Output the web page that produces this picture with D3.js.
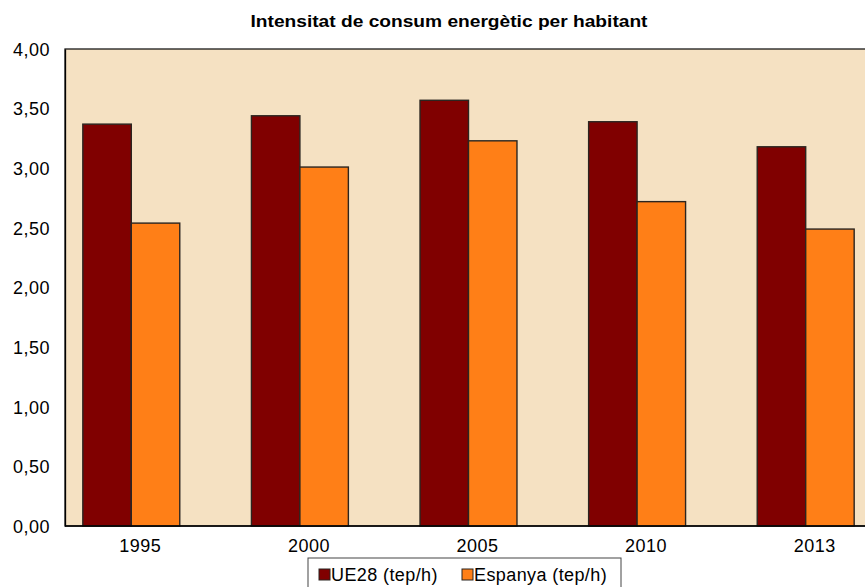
<!DOCTYPE html>
<html>
<head>
<meta charset="utf-8">
<script src="https://cdn.jsdelivr.net/npm/d3@7"></script>
<style>
  body { margin: 0; background: #fff; }
  text { font-family: "Liberation Sans", Arial, sans-serif; fill: #000; }
</style>
</head>
<body>
<svg id="chart" width="865" height="587"></svg>
<script>
// data
var years = ['1995', '2000', '2005', '2010', '2013'];
var ue28 = [3.37, 3.44, 3.57, 3.39, 3.18];
var espanya = [2.54, 3.01, 3.23, 2.72, 2.49];
var seriesNames = ['UE28 (tep/h)', 'Espanya (tep/h)'];
var seriesColors = ['#800000', '#FF7F17'];
var yTicks = [0, 0.5, 1, 1.5, 2, 2.5, 3, 3.5, 4];

var svg = d3.select('#chart');
var plot = { left: 65, top: 49, right: 900, bottom: 526 };

// the category bands start a bit left of the axis (chart is cropped on the right)
var x0 = d3.scaleBand().domain(years).range([47, 890]).paddingInner(0.425).paddingOuter(0.2125);
var x1 = d3.scaleBand().domain([0, 1]).range([0, x0.bandwidth()]);
var y = d3.scaleLinear().domain([0, 4]).range([plot.bottom, plot.top]);

// plot background
svg.append('rect')
	.attr('x', plot.left).attr('y', plot.top)
	.attr('width', plot.right - plot.left).attr('height', plot.bottom - plot.top)
	.attr('fill', '#F5E1C2')
	.attr('stroke', '#1a1a1a').attr('stroke-width', 1.3);

// bars
var rows = years.map(function(yr, i) { return { year: yr, vals: [ue28[i], espanya[i]] }; });
var groups = svg.append('g').selectAll('g').data(rows).enter().append('g')
	.attr('transform', function(d) { return 'translate(' + x0(d.year) + ',0)'; });

groups.selectAll('rect').data(function(d) { return d.vals; }).enter().append('rect')
	.attr('x', function(d, i) { return x1(i); })
	.attr('y', function(d) { return y(d); })
	.attr('width', x1.bandwidth())
	.attr('height', function(d) { return y(0) - y(d); })
	.attr('fill', function(d, i) { return seriesColors[i]; })
	.attr('stroke', '#2b2520').attr('stroke-width', 1.4);

// y axis
var yAxis = svg.append('g').attr('transform', 'translate(' + plot.left + ',0)')
	.call(d3.axisLeft(y).tickValues(yTicks).tickSize(0).tickPadding(15)
		.tickFormat(function(d) { return d3.format('.2f')(d).replace('.', ','); }));
yAxis.select('.domain').attr('stroke', '#000').attr('stroke-width', 1.3);
yAxis.selectAll('text').style('font-size', '18px').style('letter-spacing', '0.5px').attr('dy', '0.35em');

// x axis
var xAxis = svg.append('g').attr('transform', 'translate(0,' + plot.bottom + ')')
	.call(d3.axisBottom(x0).tickSize(0).tickPadding(10));
xAxis.select('.domain').remove();
svg.append('line')
	.attr('x1', plot.left).attr('x2', plot.right)
	.attr('y1', plot.bottom).attr('y2', plot.bottom)
	.attr('stroke', '#000').attr('stroke-width', 1.3);
xAxis.selectAll('.tick').attr('transform', function(d) {
	return 'translate(' + (x0(d) + x0.bandwidth() / 2 + 9) + ',0)';
});
xAxis.selectAll('text').style('font-size', '18px').style('letter-spacing', '0.5px').attr('dy', '0.88em');

// title
svg.append('text')
	.attr('x', 449).attr('y', 27)
	.attr('text-anchor', 'middle')
	.attr('textLength', 397).attr('lengthAdjust', 'spacingAndGlyphs')
	.style('font-size', '17px').style('font-weight', 'bold')
	.text('Intensitat de consum energètic per habitant');

// legend
var legend = svg.append('g').attr('transform', 'translate(308,558)');
legend.append('rect')
	.attr('x', 0).attr('y', 0).attr('width', 313).attr('height', 36)
	.attr('fill', '#fff').attr('stroke', '#444').attr('stroke-width', 1);

var legItem = legend.selectAll('g.item').data(seriesNames).enter().append('g')
	.attr('class', 'item')
	.attr('transform', function(d, i) { return 'translate(' + (11 + i * 143) + ',11)'; });
legItem.append('rect')
	.attr('width', 11).attr('height', 11)
	.attr('fill', function(d, i) { return seriesColors[i]; })
	.attr('stroke', '#2b2520').attr('stroke-width', 1);
legItem.append('text')
	.attr('x', 12).attr('y', 12)
	.style('font-size', '18px').style('letter-spacing', '0.4px')
	.text(function(d) { return d; });
</script>
</body>
</html>
